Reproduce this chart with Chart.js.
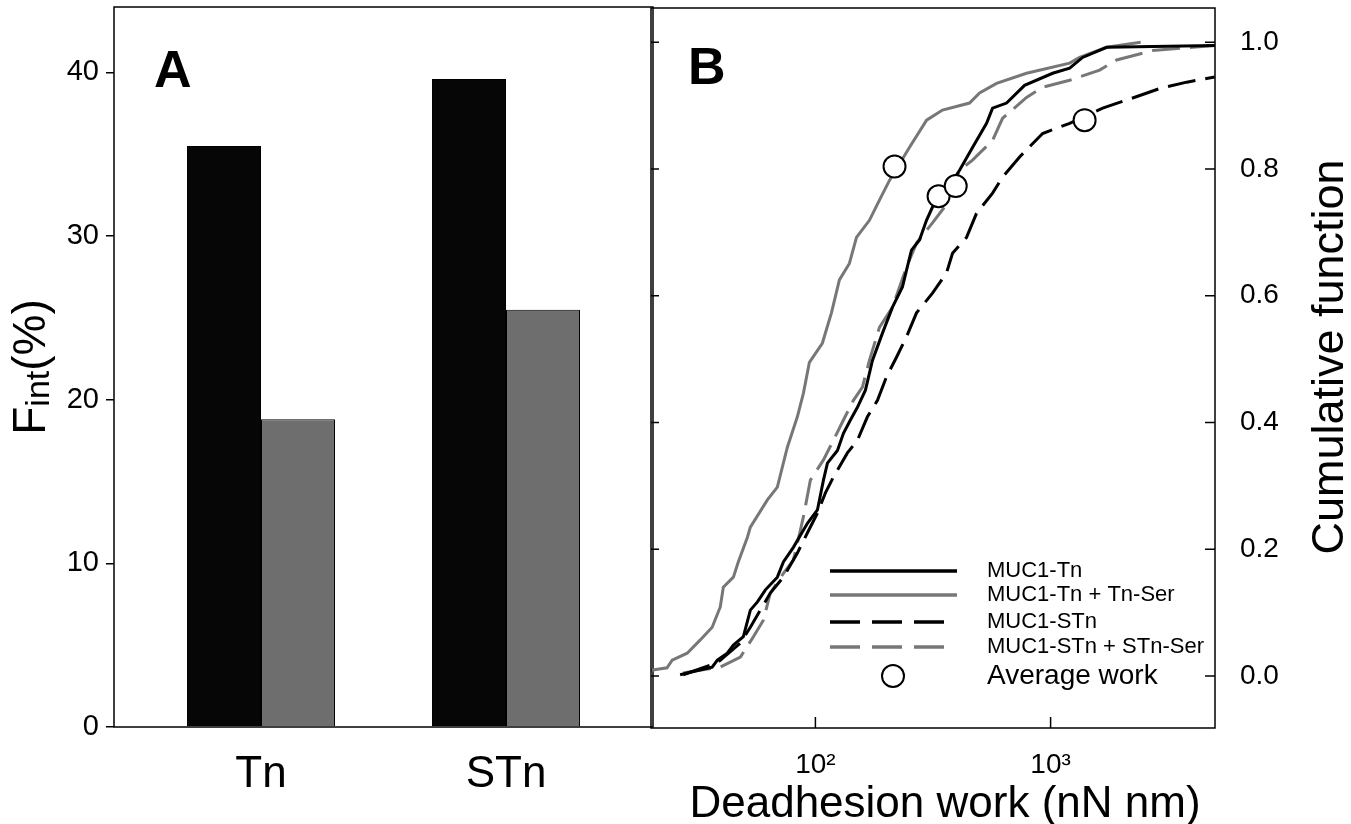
<!DOCTYPE html>
<html>
<head>
<meta charset="utf-8">
<script src="https://cdn.jsdelivr.net/npm/chart.js@4.4.1/dist/chart.umd.min.js"></script>
<style>
  body { margin: 0; background: #fff; }
  #wrap { position: relative; width: 1351px; height: 824px; overflow: hidden; }
  canvas { position: absolute; top: 0; }
</style>
</head>
<body>
<div id="wrap">
  <canvas id="panelA" width="654" height="824" style="left:0"></canvas>
  <canvas id="panelB" width="711" height="824" style="left:640px"></canvas>
</div>
<script>
// Panel A: Fint (%)
const groups = ['Tn', 'STn'];
const fintControl = [35.5, 39.6];
const fintSer = [18.8, 25.5];
const fintTicks = [0, 10, 20, 30, 40];

// Panel B: cumulative function of deadhesion work (nN nm)
const tnWork = [26.6, 29.4, 36.4, 38.3, 42.2, 44.8, 49.4, 52.9, 56.7, 61.3, 68.9, 73.1, 80.6, 92.5, 102, 108.2, 112.5, 124.1, 131.6, 140.9, 150.9, 163.2, 174.8, 192.8, 212.7, 234.5, 243.9, 256.2, 277.1, 296.7, 314.7, 337.1, 371.7, 410.1, 465.6, 534.2, 566.5, 649.9, 775.1, 1020, 1205, 1368, 1731, 4988];
const tnCum = [0.002, 0.006, 0.014, 0.025, 0.036, 0.049, 0.062, 0.104, 0.117, 0.136, 0.156, 0.180, 0.203, 0.241, 0.262, 0.309, 0.336, 0.356, 0.383, 0.404, 0.424, 0.451, 0.498, 0.541, 0.582, 0.614, 0.640, 0.672, 0.688, 0.719, 0.740, 0.756, 0.774, 0.798, 0.834, 0.872, 0.896, 0.904, 0.932, 0.951, 0.959, 0.976, 0.992, 0.995];

const tnSerWork = [19.9, 23.4, 24.6, 28.5, 32.4, 36.4, 39.4, 40.6, 44.8, 47.0, 51.4, 52.9, 62.5, 68.9, 72.4, 76.0, 83.8, 88.9, 94.3, 107, 117, 126.5, 139.5, 149.5, 169.7, 187.2, 206.5, 251, 297, 347, 452, 499, 589, 790, 1205, 1329, 1731, 2415];
const tnSerCum = [0.009, 0.013, 0.025, 0.036, 0.057, 0.077, 0.109, 0.140, 0.156, 0.180, 0.219, 0.235, 0.278, 0.298, 0.330, 0.361, 0.409, 0.446, 0.495, 0.525, 0.573, 0.625, 0.651, 0.692, 0.719, 0.751, 0.782, 0.834, 0.877, 0.893, 0.904, 0.920, 0.935, 0.951, 0.967, 0.976, 0.992, 1.0];

const stnWork = [27.4, 38.3, 48.0, 52.9, 58.3, 64.3, 73.1, 83.8, 92.5, 102, 110.3, 119.3, 136.8, 150.9, 166.4, 183.6, 200.5, 221.2, 243.9, 269.1, 314.7, 361, 382.8, 439.1, 484.2, 566.5, 624.8, 738.1, 924.7, 1205, 1665, 2233, 2909, 3791, 4988];
const stnCum = [0.002, 0.021, 0.052, 0.077, 0.104, 0.131, 0.156, 0.194, 0.226, 0.257, 0.289, 0.314, 0.352, 0.372, 0.409, 0.435, 0.472, 0.503, 0.535, 0.573, 0.604, 0.636, 0.667, 0.692, 0.730, 0.762, 0.787, 0.819, 0.856, 0.872, 0.896, 0.912, 0.927, 0.937, 0.945];

const stnSerWork = [27.4, 39.4, 48.0, 54.5, 60.1, 64.3, 73.1, 80.6, 86.3, 88.9, 95.2, 108.2, 119.3, 131.6, 145.1, 158.5, 169.7, 187.2, 212.7, 243.9, 269.1, 314.7, 353.9, 410.1, 465.6, 566.5, 624.8, 790, 924.7, 1205, 1616, 1909, 2717, 4021, 4988];
const stnSerCum = [0.005, 0.014, 0.030, 0.062, 0.088, 0.131, 0.162, 0.183, 0.230, 0.251, 0.309, 0.341, 0.372, 0.404, 0.435, 0.456, 0.498, 0.550, 0.582, 0.645, 0.683, 0.715, 0.740, 0.798, 0.814, 0.845, 0.880, 0.913, 0.929, 0.940, 0.956, 0.972, 0.987, 0.992, 0.995];

const avgWork = [217, 334, 395, 1395];
const avgCum = [0.804, 0.757, 0.773, 0.877];

const workTicks = [100, 1000];
const workTickLabels = ['10²', '10³'];
const cumTicks = [0, 0.2, 0.4, 0.6, 0.8, 1.0];

const FONT = "'Liberation Sans', Arial, sans-serif";
Chart.defaults.font.family = FONT;
Chart.defaults.color = '#000';

const pts = (xs, ys) => xs.map((x, i) => ({ x: x, y: ys[i] }));

// keep the chart area where the frame is: no extra room for end labels
const noPad = s => { s.paddingTop = 0; s.paddingBottom = 0; s.paddingLeft = 0; s.paddingRight = 0; };

// frame + letter + y title with subscript for panel A
const decorA = {
    id: 'decorA',
    afterDraw(chart) {
        const { ctx, chartArea: a } = chart;
        ctx.save();
        ctx.strokeStyle = '#000';
        ctx.lineWidth = 1.5;
        ctx.strokeRect(a.left, a.top, a.right - a.left, a.bottom - a.top);

        ctx.fillStyle = '#000';
        ctx.font = 'bold 52px ' + FONT;
        ctx.textBaseline = 'alphabetic';
        ctx.fillText('A', a.left + 40, a.top + 80);

        // F_int(%)
        ctx.translate(45, (a.top + a.bottom) / 2);
        ctx.rotate(-Math.PI / 2);
        const big = '46px ' + FONT, small = '34px ' + FONT;
        ctx.font = big;
        const wF = ctx.measureText('F').width, wP = ctx.measureText('(%)').width;
        ctx.font = small;
        const wI = ctx.measureText('int').width;
        let x0 = -(wF + wI + wP) / 2;
        ctx.font = big;
        ctx.fillText('F', x0, 0);
        ctx.font = small;
        ctx.fillText('int', x0 + wF, 4);
        ctx.font = big;
        ctx.fillText('(%)', x0 + wF + wI, 0);
        ctx.restore();
    }
};

// frame, inward ticks, titles and legend for panel B
const decorB = {
    id: 'decorB',
    afterDraw(chart) {
        const { ctx, chartArea: a, scales } = chart;
        ctx.save();
        ctx.strokeStyle = '#000';
        ctx.lineWidth = 1.5;
        ctx.strokeRect(a.left, a.top, a.right - a.left, a.bottom - a.top);

        ctx.beginPath();
        workTicks.forEach(v => {
            const px = scales.x.getPixelForValue(v);
            ctx.moveTo(px, a.bottom);
            ctx.lineTo(px, a.bottom - 11);
        });
        cumTicks.forEach(v => {
            const py = scales.y.getPixelForValue(v);
            ctx.moveTo(a.right, py);
            ctx.lineTo(a.right - 10, py);
            ctx.moveTo(a.left, py);
            ctx.lineTo(a.left + 8, py);
        });
        ctx.stroke();

        ctx.fillStyle = '#000';
        ctx.font = 'bold 52px ' + FONT;
        ctx.fillText('B', a.left + 37, a.top + 76);

        ctx.font = '44px ' + FONT;
        ctx.textAlign = 'center';
        ctx.fillText('Deadhesion work (nN nm)', (a.left + a.right) / 2 + 12, 817);

        ctx.save();
        ctx.translate(a.right + 128, 357);
        ctx.rotate(-Math.PI / 2);
        ctx.font = '45px ' + FONT;
        ctx.fillText('Cumulative function', 0, 0);
        ctx.restore();

        // legend
        const rows = [563, 587, 614, 639, 668];
        const lx0 = a.left + 179, lx1 = a.left + 306, tx = a.left + 336;
        ctx.textAlign = 'left';
        ctx.textBaseline = 'middle';
        chart.data.datasets.forEach((ds, i) => {
            const y = a.top + rows[i];
            if (ds.showLine === false) {
                ctx.beginPath();
                ctx.setLineDash([]);
                ctx.lineWidth = 2;
                ctx.strokeStyle = '#000';
                ctx.fillStyle = '#fff';
                ctx.arc(a.left + 242, y, 11, 0, Math.PI * 2);
                ctx.fill();
                ctx.stroke();
                ctx.font = '28px ' + FONT;
            } else {
                ctx.beginPath();
                ctx.strokeStyle = ds.borderColor;
                ctx.lineWidth = 3.5;
                ctx.setLineDash(ds.borderDash ? [30, 12] : []);
                ctx.moveTo(lx0, y);
                ctx.lineTo(ds.borderDash ? lx0 + 114 : lx1, y);
                ctx.stroke();
                ctx.font = '22px ' + FONT;
            }
            ctx.fillStyle = '#000';
            ctx.fillText(ds.label, tx, y);
        });
        ctx.restore();
    }
};

new Chart(document.getElementById('panelA'), {
    type: 'bar',
    data: {
        datasets: [{
            label: 'MUC1',
            data: pts([1, 2], fintControl),
            backgroundColor: '#060606',
            borderColor: '#000',
            borderWidth: 1
        }, {
            label: 'MUC1 + Ser',
            data: pts([1, 2], fintSer),
            backgroundColor: '#6e6e6e',
            borderColor: '#000',
            borderWidth: 1
        }]
    },
    options: {
        responsive: false,
        animation: false,
        devicePixelRatio: 1,
        categoryPercentage: 0.604,
        barPercentage: 1.0,
        layout: { autoPadding: false, padding: { top: 7, right: 1, left: 0, bottom: 0 } },
        plugins: { legend: { display: false }, tooltip: { enabled: false } },
        scales: {
            x: {
                type: 'linear',
                min: 0.4,
                max: 2.6,
                offset: false,
                afterBuildTicks: s => { s.ticks = [1, 2].map(v => ({ value: v })); },
                afterFit: s => { s.height = 97; noPad(s); },
                ticks: { callback: (v, i) => groups[i], font: { size: 44 }, padding: 21, maxRotation: 0, autoSkip: false },
                grid: { display: false, drawTicks: false },
                border: { display: false }
            },
            y: {
                min: 0,
                max: 44,
                afterBuildTicks: s => { s.ticks = fintTicks.map(v => ({ value: v })); },
                afterFit: s => { s.width = 114; noPad(s); },
                ticks: { font: { size: 29 }, padding: 7 },
                grid: { drawOnChartArea: false, drawTicks: true, tickLength: 8, color: '#000', lineWidth: 1.5 },
                border: { display: false }
            }
        }
    },
    plugins: [decorA]
});

const lineBase = { pointRadius: 0, borderWidth: 3, tension: 0, fill: false, order: 1 };

new Chart(document.getElementById('panelB'), {
    type: 'line',
    data: {
        datasets: [
            Object.assign({ label: 'MUC1-Tn', data: pts(tnWork, tnCum), borderColor: '#000' }, lineBase),
            Object.assign({ label: 'MUC1-Tn + Tn-Ser', data: pts(tnSerWork, tnSerCum), borderColor: '#777' }, lineBase),
            Object.assign({ label: 'MUC1-STn', data: pts(stnWork, stnCum), borderColor: '#000', borderDash: [28, 10] }, lineBase),
            Object.assign({ label: 'MUC1-STn + STn-Ser', data: pts(stnSerWork, stnSerCum), borderColor: '#777', borderDash: [28, 10] }, lineBase),
            {
                type: 'scatter',
                label: 'Average work',
                data: pts(avgWork, avgCum),
                showLine: false,
                pointRadius: 11,
                pointBackgroundColor: '#fff',
                pointBorderColor: '#000',
                pointBorderWidth: 2,
                order: 0
            }
        ]
    },
    options: {
        responsive: false,
        animation: false,
        devicePixelRatio: 1,
        layout: { autoPadding: false, padding: { top: 8, right: 0, left: 11, bottom: 0 } },
        plugins: { legend: { display: false }, tooltip: { enabled: false } },
        scales: {
            x: {
                type: 'logarithmic',
                min: 20,
                max: 5000,
                afterBuildTicks: s => { s.ticks = workTicks.map(v => ({ value: v })); },
                afterFit: s => { s.height = 96; noPad(s); },
                ticks: { callback: (v, i) => workTickLabels[i], font: { size: 28 }, padding: 20, maxRotation: 0, autoSkip: false },
                grid: { display: false, drawTicks: false },
                border: { display: false }
            },
            y: {
                type: 'linear',
                position: 'right',
                min: -0.082,
                max: 1.054,
                afterBuildTicks: s => { s.ticks = cumTicks.map(v => ({ value: v })); },
                afterFit: s => { s.width = 136; noPad(s); },
                ticks: { callback: v => v.toFixed(1), font: { size: 28 }, padding: 25 },
                grid: { display: false, drawTicks: false },
                border: { display: false }
            }
        }
    },
    plugins: [decorB]
});
</script>
</body>
</html>
